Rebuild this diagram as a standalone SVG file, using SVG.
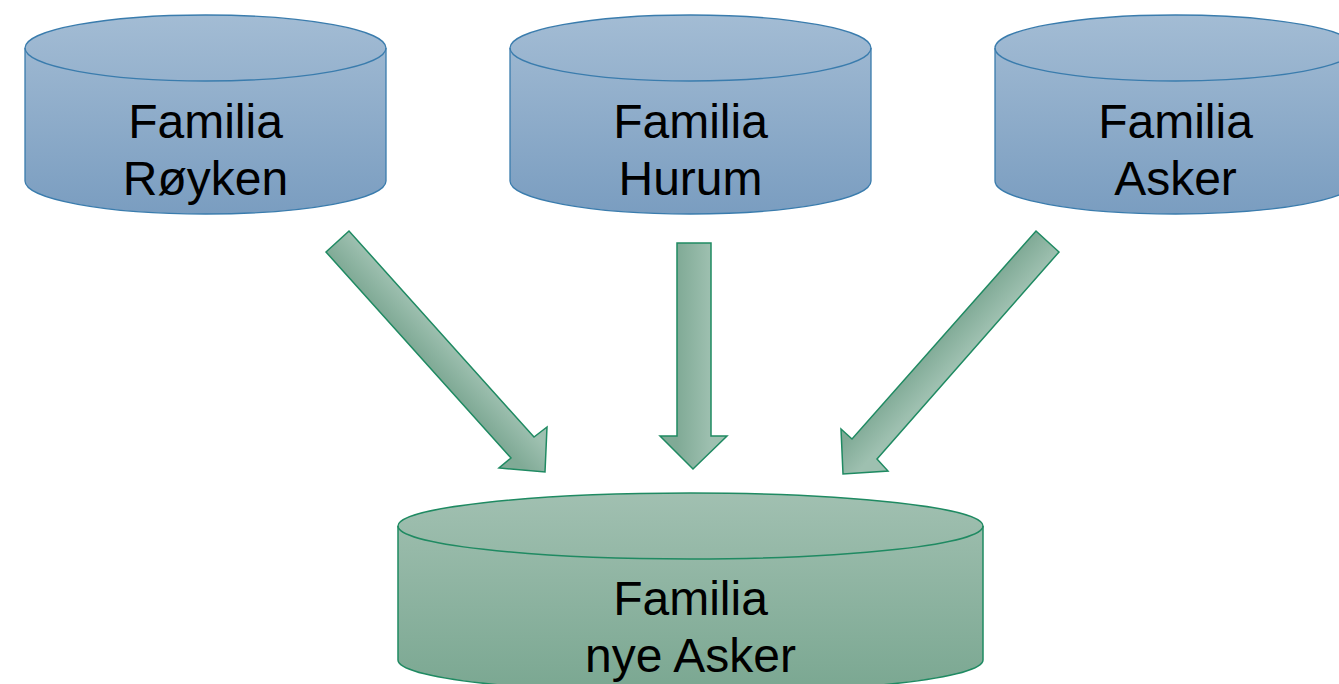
<svg xmlns="http://www.w3.org/2000/svg" width="1339" height="684" viewBox="0 0 1339 684">
<defs>
<linearGradient id="gBlue" x1="0" y1="0" x2="0" y2="1">
<stop offset="0" stop-color="#a3bcd4"/>
<stop offset="1" stop-color="#7a9dc0"/>
</linearGradient>
<linearGradient id="gGreen" x1="0" y1="0" x2="0" y2="1">
<stop offset="0" stop-color="#a1c0b1"/>
<stop offset="1" stop-color="#7aa791"/>
</linearGradient>
<linearGradient id="gArrow" gradientUnits="userSpaceOnUse" x1="677" y1="0" x2="711" y2="0">
<stop offset="0" stop-color="#80aa96"/>
<stop offset="1" stop-color="#9ec0b0"/>
</linearGradient>
<linearGradient id="gArrowL" gradientUnits="userSpaceOnUse" x1="326" y1="252" x2="349" y2="231">
<stop offset="0" stop-color="#80aa96"/>
<stop offset="1" stop-color="#9ec0b0"/>
</linearGradient>
<linearGradient id="gArrowR" gradientUnits="userSpaceOnUse" x1="1036" y1="231" x2="1059" y2="252">
<stop offset="0" stop-color="#80aa96"/>
<stop offset="1" stop-color="#9ec0b0"/>
</linearGradient>
</defs>
<style>
.blue{fill:url(#gBlue);stroke:#3a7cad;stroke-width:1.3}
.green{fill:url(#gGreen);stroke:#1f8a62;stroke-width:1.5}
.lid{fill:none}
.arrow{stroke:#1f8a62;stroke-width:1.5;stroke-linejoin:miter}
text{font-family:"Liberation Sans",Arial,sans-serif;font-size:48px;fill:#000;text-anchor:middle}
</style>
<g id="node-royken">
<path class="blue" d="M25,48 A180.5,33 0 0 1 386,48 L386,181 A180.5,33 0 0 1 25,181 Z"/>
<path class="blue lid" d="M25,48 A180.5,33 0 0 0 386,48"/>
<text x="205.5" y="138">Familia</text>
<text x="205.5" y="195">Røyken</text>
</g>
<g id="node-hurum">
<path class="blue" d="M510,48 A180.5,33 0 0 1 871,48 L871,181 A180.5,33 0 0 1 510,181 Z"/>
<path class="blue lid" d="M510,48 A180.5,33 0 0 0 871,48"/>
<text x="690.5" y="138">Familia</text>
<text x="690.5" y="195">Hurum</text>
</g>
<g id="node-asker">
<path class="blue" d="M995,48 A180.5,33 0 0 1 1356,48 L1356,181 A180.5,33 0 0 1 995,181 Z"/>
<path class="blue lid" d="M995,48 A180.5,33 0 0 0 1356,48"/>
<text x="1175.5" y="138">Familia</text>
<text x="1175.5" y="195">Asker</text>
</g>
<g id="node-nye-asker">
<path class="green" d="M398,526 A292.5,33 0 0 1 983,526 L983,660 A292.5,33 0 0 1 398,660 Z"/>
<path class="green lid" d="M398,526 A292.5,33 0 0 0 983,526"/>
<text x="690.5" y="615">Familia</text>
<text x="690.5" y="672">nye Asker</text>
</g>
<g id="connectors">
<polygon class="arrow" fill="url(#gArrowL)" points="349,231 326,252 511,458 499,468 545,472 547,427 534,437"/>
<polygon class="arrow" fill="url(#gArrow)" points="677,243 711,243 711,436 727,436 693,469 660,436 677,436"/>
<polygon class="arrow" fill="url(#gArrowR)" points="1036,231 1059,252 877,459 888,471 843,474 841,429 852,439"/>
</g>
</svg>
